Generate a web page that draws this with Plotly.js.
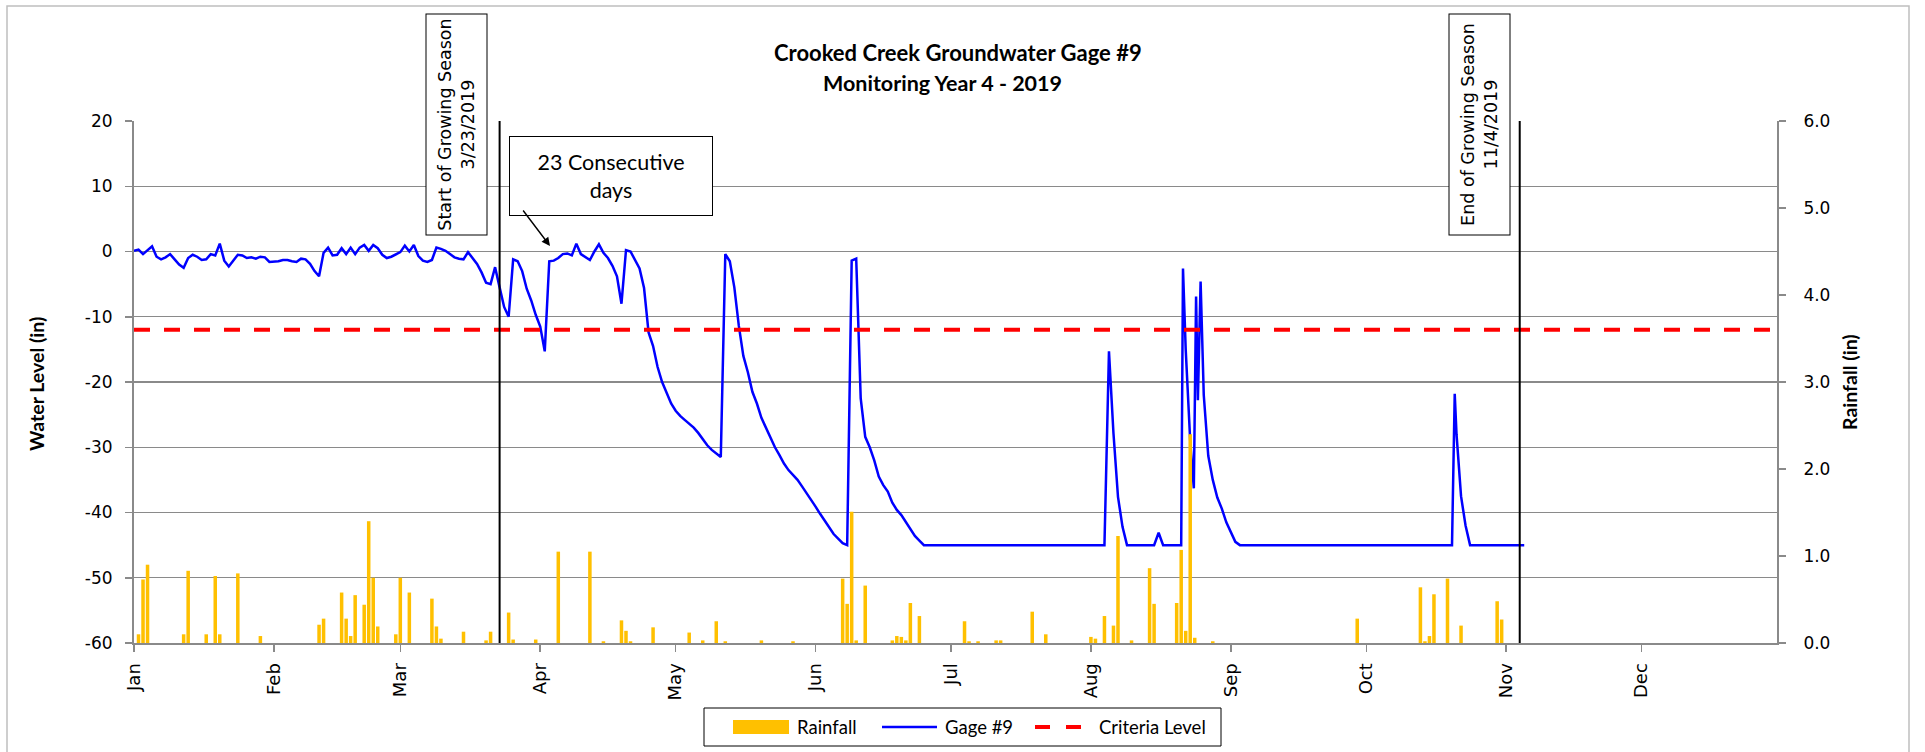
<!DOCTYPE html>
<html>
<head>
<meta charset="utf-8">
<script src="https://cdn.plot.ly/plotly-3.0.1.min.js"></script>
<style>html,body{margin:0;padding:0;background:#fff;}#chart{width:1925px;height:752px;}</style>
</head>
<body>
<div id="chart"></div>
<script>
// ---- data (day offsets from 2019-01-01) ----
const monthLabels = ['Jan','Feb','Mar','Apr','May','Jun','Jul','Aug','Sep','Oct','Nov','Dec'];
const waterTicks = [-60, -50, -40, -30, -20, -10, 0, 10, 20];
const waterTickText = ['-60', '-50', '-40', '-30', '-20', '-10', '0', '10', '20'];
const rainTicks = [0, 1, 2, 3, 4, 5, 6];
const rainTickText = ['0.0', '1.0', '2.0', '3.0', '4.0', '5.0', '6.0'];

// Gage #9 daily water level (in), day 0 = Jan 1 ... day 308 = Nov 5
const gageLevel = [
  0.1, 0.3, -0.4, 0.2, 0.8, -0.8, -1.2, -0.9, -0.4, -1.2,
  -2.0, -2.5, -1.0, -0.5, -0.8, -1.3, -1.2, -0.4, -0.6, 1.2,
  -1.4, -2.3, -1.4, -0.5, -0.6, -1.0, -0.9, -1.1, -0.8, -0.9,
  -1.6, -1.6, -1.5, -1.3, -1.3, -1.5, -1.6, -1.1, -1.2, -1.9,
  -3.0, -3.8, -0.2, 0.6, -0.6, -0.5, 0.5, -0.4, 0.6, -0.4,
  0.6, 1.0, 0.1, 1.0, 0.5, -0.5, -1.0, -0.8, -0.4, -0.1,
  0.9, 0.0, 1.0, -0.7, -1.4, -1.6, -1.3, 0.6, 0.4, 0.1,
  -0.4, -0.9, -1.1, -1.2, -0.1, -1.1, -1.9, -3.2, -4.8, -5.0,
  -2.4, -5.5, -8.5, -10.0, -1.2, -1.5, -3.0, -5.7, -7.5, -9.7,
  -11.5, -15.3, -1.5, -1.4, -1.0, -0.4, -0.3, -0.6, 1.2, -0.4,
  -0.9, -1.3, 0.0, 1.1, -0.2, -1.0, -2.2, -3.8, -8.0, 0.2,
  0.0, -1.2, -2.6, -5.6, -12.4, -14.5, -17.7, -20.0, -21.8, -23.3,
  -24.4, -25.2, -25.8, -26.4, -27.0, -27.8, -28.7, -29.7, -30.4, -31.0,
  -31.5, -0.4, -1.5, -5.5, -11.4, -16.0, -18.5, -21.5, -23.3, -25.5,
  -27.0, -28.5, -30.0, -31.2, -32.5, -33.5, -34.3, -35.0, -36.0, -37.0,
  -38.1, -39.1, -40.2, -41.3, -42.2, -43.3, -44.0, -44.7, -45.0, -1.4,
  -1.1, -22.5, -28.4, -30.0, -32.0, -34.5, -35.8, -36.8, -38.5, -39.6,
  -40.4, -41.5, -42.6, -43.6, -44.3, -45, -45, -45, -45, -45,
  -45, -45, -45, -45, -45, -45, -45, -45, -45, -45,
  -45, -45, -45, -45, -45, -45, -45, -45, -45, -45,
  -45, -45, -45, -45, -45, -45, -45, -45, -45, -45,
  -45, -45, -45, -45, -45, -45, -15.3, -27.9, -37.6, -42.2,
  -45, -45, -45, -45, -45, -45, -45, -43.1, -45, -45,
  -45, -45, -45, null, null, null, null, -22.0, -31.3, -35.0,
  -37.7, -39.4, -41.5, -43.0, -44.5, -45, -45, -45, -45, -45,
  -45, -45, -45, -45, -45, -45, -45, -45, -45, -45,
  -45, -45, -45, -45, -45, -45, -45, -45, -45, -45,
  -45, -45, -45, -45, -45, -45, -45, -45, -45, -45,
  -45, -45, -45, -45, -45, -45, -45, -45, -45, -45,
  -45, -45, -45, -28.0, -37.5, -42.0, -45, -45, -45, -45,
  -45, -45, -45, -45, -45, -45, -45, -45, -45
];
// sub-daily readings during quick storm responses
const gageExtraDay   = [232.4, 233.0, 234.0, 234.8, 235.3, 235.7, 236.3, 292.6];
const gageExtraLevel = [-2.6, -15.0, -29.0, -36.3, -6.9, -22.8, -4.6, -21.8];

// Daily rainfall (in)
const rainDay = [1,2,3,11,12,16,18,19,23,28,41,42,46,47,48,49,51,52,53,54,58,59,61,66,67,68,73,78,79,83,84,89,94,101,104,108,109,110,115,123,126,129,131,139,146,157,158,159,160,162,168,169,170,171,172,174,184,185,187,191,192,199,202,212,213,215,217,218,221,225,226,231,232,233,234,235,239,271,285,286,287,288,291,294,302,303];
const rainAmount = [0.10,0.73,0.90,0.10,0.83,0.10,0.77,0.10,0.80,0.08,0.21,0.28,0.58,0.28,0.08,0.55,0.44,1.40,0.75,0.19,0.10,0.75,0.58,0.51,0.19,0.05,0.13,0.03,0.13,0.35,0.04,0.04,1.05,1.05,0.02,0.26,0.14,0.02,0.18,0.12,0.03,0.25,0.02,0.03,0.02,0.74,0.45,1.51,0.03,0.66,0.03,0.08,0.07,0.03,0.46,0.31,0.25,0.02,0.02,0.03,0.03,0.36,0.10,0.07,0.05,0.31,0.20,1.23,0.03,0.86,0.45,0.46,1.07,0.14,2.40,0.06,0.02,0.28,0.64,0.02,0.08,0.56,0.74,0.20,0.48,0.27];

const criteriaDates = ['2019-01-01', '2019-12-31'];
const criteriaLevel = [-12, -12];

const growingStart = '2019-03-23';
const growingEnd = '2019-11-04';

const legendLabels = ['Rainfall', 'Gage #9', 'Criteria Level'];

// ---- helpers ----
const DAY = 86400000;
const t0 = Date.UTC(2019, 0, 1);
function pad(n){ return (n < 10 ? '0' : '') + n; }
function dayToDate(d){
  const dt = new Date(t0 + Math.round(d * DAY));
  return dt.getUTCFullYear() + '-' + pad(dt.getUTCMonth()+1) + '-' + pad(dt.getUTCDate()) + ' ' +
         pad(dt.getUTCHours()) + ':' + pad(dt.getUTCMinutes()) + ':00';
}
const gagePts = [];
gageLevel.forEach((v, i) => { if (v !== null) gagePts.push([i, v]); });
gageExtraDay.forEach((d, i) => gagePts.push([d, gageExtraLevel[i]]));
gagePts.sort((a, b) => a[0] - b[0]);

const monthTicks = monthLabels.map((m, i) => '2019-' + pad(i+1) + '-01');

const RAIN_C = '#FFC000', GAGE_C = '#0000FF', CRIT_C = '#FF0000';
const CRIT_DASH = '16px,14px';

// ---- traces ----
const rainTrace = {
  type: 'bar', name: legendLabels[0],
  x: rainDay.map(dayToDate), y: rainAmount,
  yaxis: 'y2', width: 0.78 * DAY,
  marker: {color: RAIN_C, line: {width: 0}},
  hoverinfo: 'skip'
};
const gageTrace = {
  type: 'scatter', mode: 'lines', name: legendLabels[1],
  x: gagePts.map(p => dayToDate(p[0])), y: gagePts.map(p => p[1]),
  line: {color: GAGE_C, width: 2.5}
};
const critTrace = {
  type: 'scatter', mode: 'lines', name: legendLabels[2],
  x: criteriaDates, y: criteriaLevel,
  line: {color: CRIT_C, width: 4, dash: CRIT_DASH}
};

// pixel -> paper helpers (plot area: x 134..1777, y 121..643)
const PL = 134, PW = 1643, PB = 643, PH = 522;
const px = x => (x - PL) / PW;
const py = y => (PB - y) / PH;

const tickFont = {family: 'DejaVu Sans, Verdana, sans-serif', size: 17, color: '#000'};
const xTickFont = {family: 'DejaVu Sans, Verdana, sans-serif', size: 18, color: '#000'};
const calFont = 'Lato, Carlito, Calibri, sans-serif';
const gridC = '#8a8a8a';

const annFont = (size, fam) => ({family: fam || calFont, size: size, color: '#000'});

const layout = {
  width: 1925, height: 752,
  margin: {l: PL, r: 1925 - PL - PW, t: PB - PH, b: 752 - PB, pad: 0},
  paper_bgcolor: '#fff', plot_bgcolor: '#fff',
  showlegend: false,
  xaxis: {
    type: 'date', range: ['2019-01-01', '2019-12-31'],
    tickmode: 'array', tickvals: monthTicks, ticktext: monthLabels,
    tickangle: -90, tickfont: xTickFont,
    ticks: 'outside', ticklen: 7, tickcolor: gridC, tickwidth: 1.5,
    ticklabelstandoff: 4,
    showgrid: false, showline: true, linecolor: gridC, linewidth: 2,
    zeroline: false, fixedrange: true
  },
  yaxis: {
    range: [-60, 20], tickmode: 'array', tickvals: waterTicks, ticktext: waterTickText,
    tickfont: tickFont, ticks: 'outside', ticklen: 7, tickcolor: gridC, tickwidth: 1.5,
    ticklabelstandoff: 9,
    showgrid: true, gridcolor: gridC, gridwidth: 1.2,
    showline: true, linecolor: gridC, linewidth: 2, zeroline: false, fixedrange: true
  },
  yaxis2: {
    overlaying: 'y', side: 'right',
    range: [0, 6], tickmode: 'array', tickvals: rainTicks, ticktext: rainTickText,
    tickfont: tickFont, ticks: 'outside', ticklen: 7, tickcolor: gridC, tickwidth: 1.5,
    ticklabelstandoff: 14,
    showgrid: false, showline: true, linecolor: gridC, linewidth: 2, zeroline: false, fixedrange: true
  },
  shapes: [
    {type: 'line', xref: 'x', yref: 'paper', x0: growingStart, x1: growingStart, y0: 0, y1: 1,
     line: {color: '#000', width: 2}},
    {type: 'line', xref: 'x', yref: 'paper', x0: growingEnd, x1: growingEnd, y0: 0, y1: 1,
     line: {color: '#000', width: 2}},
    {type: 'rect', xref: 'paper', yref: 'paper', x0: px(7), x1: px(1909), y0: py(770), y1: py(6),
     line: {color: '#BFBFBF', width: 1.5}, layer: 'below'},
    // legend box and keys
    {type: 'rect', xref: 'paper', yref: 'paper', x0: px(704), x1: px(1221), y0: py(746), y1: py(708),
     line: {color: '#000', width: 1}, fillcolor: '#fff'},
    {type: 'rect', xref: 'paper', yref: 'paper', x0: px(733), x1: px(789), y0: py(734), y1: py(720),
     line: {width: 0}, fillcolor: RAIN_C},
    {type: 'line', xref: 'paper', yref: 'paper', x0: px(882), x1: px(937), y0: py(727), y1: py(727),
     line: {color: GAGE_C, width: 2.5}},
    {type: 'line', xref: 'paper', yref: 'paper', x0: px(1035), x1: px(1081), y0: py(727), y1: py(727),
     line: {color: CRIT_C, width: 4, dash: '15px,16px'}}
  ],
  annotations: [
    {xref: 'paper', yref: 'paper', x: px(958), y: py(52), xanchor: 'center', yanchor: 'middle',
     text: '<b>Crooked Creek Groundwater Gage #9</b>', showarrow: false, font: annFont(22)},
    {xref: 'paper', yref: 'paper', x: px(942), y: py(83), xanchor: 'center', yanchor: 'middle',
     text: '<b>Monitoring Year 4 - 2019</b>', showarrow: false, font: annFont(21.5)},
    {xref: 'paper', yref: 'paper', x: px(36), y: py(384), xanchor: 'center', yanchor: 'middle',
     text: '<b>Water Level (in)</b>', textangle: -90, showarrow: false, font: annFont(19.5)},
    {xref: 'paper', yref: 'paper', x: px(1849), y: py(382), xanchor: 'center', yanchor: 'middle',
     text: '<b>Rainfall (in)</b>', textangle: -90, showarrow: false, font: annFont(19.5)},
    {xref: 'paper', yref: 'paper', x: px(456.5), y: py(125), xanchor: 'center', yanchor: 'middle',
     text: 'Start of Growing Season<br>3/23/2019', textangle: -90, showarrow: false,
     width: 214, height: 54, borderpad: 3, bordercolor: '#000', borderwidth: 1, bgcolor: '#fff',
     font: annFont(17.5, 'DejaVu Sans, Verdana, sans-serif')},
    {xref: 'paper', yref: 'paper', x: px(1479.5), y: py(125), xanchor: 'center', yanchor: 'middle',
     text: 'End of Growing Season<br>11/4/2019', textangle: -90, showarrow: false,
     width: 214, height: 54, borderpad: 3, bordercolor: '#000', borderwidth: 1, bgcolor: '#fff',
     font: annFont(17.5, 'DejaVu Sans, Verdana, sans-serif')},
    {xref: 'paper', yref: 'paper', x: px(610.5), y: py(175.5), xanchor: 'center', yanchor: 'middle',
     text: '23 Consecutive<br>days', showarrow: false,
     width: 196, height: 72, borderpad: 3, bordercolor: '#000', borderwidth: 1, bgcolor: '#fff',
     font: annFont(21.5)},
    {xref: 'paper', yref: 'paper', x: px(550), y: py(246), text: '', showarrow: true,
     ax: -28, ay: -37, arrowhead: 2, arrowsize: 1.2, arrowwidth: 1.4, arrowcolor: '#000', standoff: 0},
    // legend labels
    {xref: 'paper', yref: 'paper', x: px(795), y: py(727), xanchor: 'left', yanchor: 'middle',
     text: legendLabels[0], showarrow: false, font: annFont(18.5)},
    {xref: 'paper', yref: 'paper', x: px(943), y: py(727), xanchor: 'left', yanchor: 'middle',
     text: legendLabels[1], showarrow: false, font: annFont(18.5)},
    {xref: 'paper', yref: 'paper', x: px(1097), y: py(727), xanchor: 'left', yanchor: 'middle',
     text: legendLabels[2], showarrow: false, font: annFont(18.5)}
  ]
};

Plotly.newPlot('chart', [rainTrace, gageTrace, critTrace], layout, {displayModeBar: false, staticPlot: true});
</script>
</body>
</html>
